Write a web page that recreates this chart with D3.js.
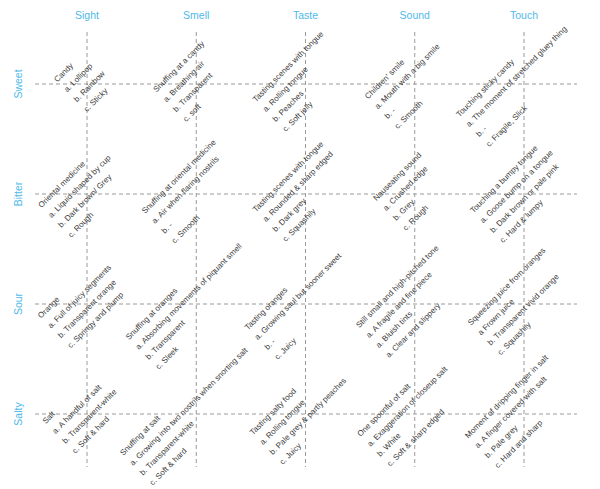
<!DOCTYPE html>
<html><head><meta charset="utf-8">
<script src="https://cdn.jsdelivr.net/npm/d3@7"></script>
<style>body{margin:0;background:#fff}</style>
</head><body>
<svg id="c" width="600" height="489"></svg>
<script>
const senses = ["Sight","Smell","Taste","Sound","Touch"];
const tastes = ["Sweet","Bitter","Sour","Salty"];
const sweetTexts = [
  ["Candy","a. Lollipop","b. Rainbow","c. Sticky"],
  ["Snuffing at a candy","a. Breathing air","b. Transparent","c. soft"],
  ["Tasting scenes with tongue","a. Rolling tongue","b. Peaches","c. Soft jelly"],
  ["Children' smile","a. Mouth with a big smile","b. -","c. Smooth"],
  ["Touching sticky candy","a. The moment of stretched gluey thing","b. -","c. Fragile, Slick"]
];
const bitterTexts = [
  ["Oriental medicine","a. Liquid shaped by cup","b. Dark brown/ Grey","c. Rough"],
  ["Snuffing at oriental medicine","a. Air when flaring nostrils","b. -","c. Smooth"],
  ["Tasting scenes with tongue","a. Rounded & sharp edged","b. Dark grey","c. Squashily"],
  ["Nauseating sound","a. Crushed edge","b. Grey","c. Rough"],
  ["Touching a bumpy tongue","a. Goose bump on a tongue","b. Dark brown or pale pink","c. Hard & lumpy"]
];
const sourTexts = [
  ["Orange","a. Full of juicy segments","b. Transparent orange","c. Springy and plump"],
  ["Snuffing at oranges","a. Absorbing movements of piquant smell","b. Transparent","c. Sleek"],
  ["Tasting oranges","a. Growing saul but sooner sweet","b. -","c. Juicy"],
  ["Still small and high-pitched tone","a. A fragile and fine piece","a. Bluish tints","a. Clear and slippery"],
  ["Squeezing juice from oranges","a Frown juice","b. Transparent vivid orange","c. Squashily"]
];
const saltyTexts = [
  ["Salt","a. A handful of salt","b. Transparent-white","c. Soft & hard"],
  ["Snuffing at salt","a. Growing into two nostrils when snorting salt","b. Transparent-white","c. Soft & hard"],
  ["Tasting salty food","a. Rolling tongue","b. Pale grey & partly peaches","c. Juicy"],
  ["One spoonful of salt","a. Exaggeration of closeup salt","b. White","c. Soft & sharp edged"],
  ["Moment of dripping finger in salt","a. A finger covered with salt","b. Pale grey","c. Hard and sharp"]
];
const cellTexts = [sweetTexts, bitterTexts, sourTexts, saltyTexts];

const svg = d3.select("#c");
const x = d3.scalePoint().domain(senses).range([87,524]);
const y = d3.scalePoint().domain(tastes).range([84,414]);
const blue = "#4fb9ea", grid = "#9a9a9a";

svg.selectAll("line.v").data(senses).join("line")
  .attr("x1",d=>x(d)).attr("x2",d=>x(d)).attr("y1",32).attr("y2",467)
  .attr("stroke",grid).attr("stroke-width",1).attr("stroke-dasharray","4,3");
svg.selectAll("line.h").data(tastes).join("line")
  .attr("y1",d=>y(d)).attr("y2",d=>y(d)).attr("x1",35).attr("x2",577)
  .attr("stroke",grid).attr("stroke-width",1).attr("stroke-dasharray","4,3");

svg.selectAll("text.hd").data(senses).join("text")
  .attr("x",d=>x(d)).attr("y",19).attr("text-anchor","middle")
  .attr("font-family","Liberation Sans, Arial, sans-serif").attr("font-size",10.5)
  .attr("fill",blue).text(d=>d);
svg.selectAll("text.rw").data(tastes).join("text")
  .attr("transform",d=>`translate(22,${y(d)}) rotate(-90)`).attr("text-anchor","middle")
  .attr("font-family","Liberation Sans, Arial, sans-serif").attr("font-size",10.5)
  .attr("fill",blue).text(d=>d);

const lh = 14;
tastes.forEach((t,ri)=>{
  senses.forEach((s,ci)=>{
    const lines = cellTexts[ri][ci];
    const g = svg.append("g").attr("transform",`translate(${x(s)},${y(t)}) rotate(-45)`);
    const txt = g.selectAll("text").data(lines).join("text")
      .attr("font-family","Liberation Sans, Arial, sans-serif").attr("font-size",8)
      .attr("fill","#3a3a3a").text(d=>d);
    let maxLen = 0;
    txt.each(function(){maxLen=Math.max(maxLen,this.getComputedTextLength());});
    const n = lines.length;
    txt.attr("x",-maxLen/2).attr("y",(d,i)=>(i-(n-1)/2)*lh - 1);
  });
});
</script>
</body></html>
